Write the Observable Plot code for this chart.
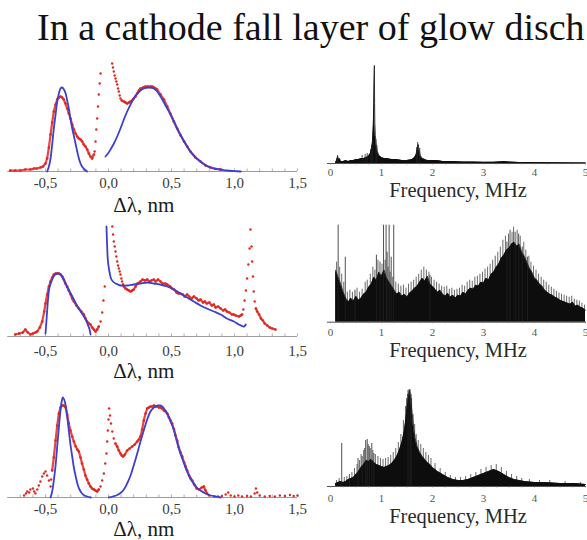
<!DOCTYPE html>
<html><head><meta charset="utf-8">
<script src="https://cdn.jsdelivr.net/npm/d3@7"></script>
<script src="https://cdn.jsdelivr.net/npm/@observablehq/plot@0.6"></script>
<style>
html,body{margin:0;padding:0;background:#fff;}
#wrap{position:relative;width:587px;height:540px;overflow:hidden;font-family:"Liberation Serif","Times New Roman",serif;}
#title{position:absolute;left:37px;top:8px;font-size:38px;line-height:1;white-space:nowrap;color:#111;}
.panel{position:absolute;overflow:visible;}
</style></head><body>
<div id="wrap"><div id="title">In a cathode fall layer of glow disch</div></div>
<script>
// ---------- text / ticks ----------
const titleText = "In a cathode fall layer of glow disch";
const leftTicks = [-0.5, 0, 0.5, 1, 1.5];
const leftTickLabels = ["-0,5", "0,0", "0,5", "1,0", "1,5"];
const rightTicks = [0, 1, 2, 3, 4, 5];
const rightTickLabels = ["0", "1", "2", "3", "4", "5"];
const leftAxisLabel = "Δλ, nm";
const rightAxisLabel = "Frequency, MHz";

// ---------- panel 1 (top) : line profile, intensity a.u. ----------
const red1Dense = [[-0.78,1],[-0.74,1],[-0.70,1],[-0.66,2],[-0.62,2],[-0.59,3],[-0.57,3],[-0.54,4],[-0.52,5],[-0.50,8],[-0.487,13],[-0.473,24],[-0.46,37],[-0.447,49],[-0.434,60],[-0.42,67],[-0.407,72],[-0.394,74],[-0.381,75],[-0.368,74],[-0.355,72],[-0.342,68],[-0.328,63],[-0.315,58],[-0.302,53],[-0.288,47],[-0.275,42],[-0.262,38],[-0.249,35],[-0.236,33],[-0.222,32],[-0.209,30],[-0.196,27],[-0.183,25],[-0.169,22],[-0.156,18],[-0.143,15],[-0.13,13],[-0.116,17]];
const red1Sparse = [[-0.11,20],[-0.103,30],[-0.097,42],[-0.09,53],[-0.083,65],[-0.077,77],[-0.07,88],[-0.063,98],[0.029,108],[0.036,104],[0.042,100],[0.049,96],[0.056,93],[0.062,90],[0.069,87],[0.076,83],[0.082,80],[0.089,76],[0.095,73]];
const red1Dense2 = [[0.105,71],[0.122,70],[0.135,69],[0.148,68],[0.162,69],[0.175,70],[0.188,71],[0.2,73],[0.214,75],[0.228,78],[0.241,81],[0.254,83],[0.274,84],[0.294,85],[0.313,85],[0.333,85],[0.347,85],[0.36,84],[0.373,83],[0.386,82],[0.413,77],[0.44,72],[0.466,65],[0.49,58],[0.518,50],[0.545,43],[0.572,36],[0.6,30],[0.625,25],[0.65,20],[0.69,14],[0.73,10],[0.77,6],[0.81,4],[0.85,2.5],[0.89,2]];
const blue1Left = [[-0.487,0],[-0.473,5],[-0.46,13],[-0.447,27],[-0.434,43],[-0.42,57],[-0.407,70],[-0.394,78],[-0.381,83],[-0.368,84],[-0.354,82],[-0.34,78],[-0.328,71],[-0.315,63],[-0.302,53],[-0.288,43],[-0.274,35],[-0.26,27],[-0.248,20],[-0.235,13],[-0.222,8],[-0.21,5],[-0.19,2],[-0.17,0]];
const blue1Right = [[-0.024,15],[-0.004,18],[0.016,22],[0.043,28],[0.069,35],[0.095,43],[0.122,52],[0.148,60],[0.175,67],[0.2,73],[0.228,78],[0.254,81],[0.28,83],[0.32,84],[0.36,83],[0.386,80],[0.413,75],[0.44,69],[0.466,63],[0.493,57],[0.52,50],[0.545,43],[0.571,37],[0.6,30],[0.624,25],[0.65,20],[0.677,16],[0.7,13],[0.73,10],[0.77,6.5],[0.81,4],[0.85,2.8],[0.89,2],[0.94,1],[1.0,0.4],[1.05,0]];

// ---------- panel 2 (middle) ----------
const red2Dense = [[-0.74,2],[-0.71,3],[-0.68,4],[-0.66,7],[-0.64,4],[-0.62,2],[-0.6,3],[-0.58,4],[-0.566,5],[-0.545,9],[-0.526,15],[-0.51,25],[-0.5,33],[-0.487,42],[-0.473,50],[-0.46,55],[-0.447,59],[-0.434,62],[-0.42,63],[-0.407,63],[-0.394,63],[-0.38,62],[-0.367,60],[-0.355,57],[-0.342,53],[-0.328,50],[-0.315,46],[-0.3,42],[-0.288,38],[-0.275,35],[-0.255,31],[-0.236,28],[-0.216,25],[-0.196,22],[-0.183,18],[-0.17,15],[-0.156,13],[-0.143,12],[-0.13,9],[-0.116,7],[-0.103,5],[-0.09,7],[-0.077,10]];
const red2Sparse = [[-0.063,15],[-0.05,24],[-0.04,36],[-0.03,50],[0.03,110],[0.036,102],[0.042,95],[0.049,90],[0.056,85],[0.062,80],[0.069,75],[0.076,71],[0.082,68],[0.089,65],[0.095,62],[0.102,58],[0.108,55]];
const red2Dense2 = [[0.115,52],[0.122,50],[0.135,48],[0.148,47],[0.162,46],[0.175,45],[0.188,46],[0.2,47],[0.215,50],[0.23,53],[0.254,55],[0.27,57],[0.29,56],[0.307,57],[0.325,55],[0.34,56],[0.36,57],[0.375,55],[0.393,57],[0.413,55],[0.43,53],[0.45,53],[0.466,52],[0.49,50],[0.505,48],[0.52,47],[0.54,44],[0.555,43],[0.57,43],[0.59,42],[0.605,40],[0.624,42],[0.64,40],[0.66,38],[0.677,40],[0.7,38],[0.715,36],[0.73,37],[0.75,34],[0.765,35],[0.78,33],[0.8,34],[0.82,31],[0.836,32],[0.85,29],[0.87,30],[0.89,28],[0.91,26],[0.925,27],[0.94,25],[0.96,24],[0.98,22],[0.995,22],[1.01,21],[1.035,20],[1.05,21],[1.06,22]];
const red2Spike = [[1.07,27],[1.08,36],[1.09,46],[1.1,58],[1.11,72],[1.12,88],[1.127,107],[1.135,90],[1.14,75],[1.147,60],[1.153,45],[1.16,35]];
const red2Tail = [[1.17,28],[1.18,25],[1.195,22],[1.21,18],[1.225,16],[1.24,13],[1.26,11],[1.28,9],[1.3,8],[1.325,7]];
const blue2Left = [[-0.5,3],[-0.49,20],[-0.48,37],[-0.47,48],[-0.45,56],[-0.43,61],[-0.407,63],[-0.38,62],[-0.355,57],[-0.33,50],[-0.3,43],[-0.275,37],[-0.25,31],[-0.22,25],[-0.2,21],[-0.18,17],[-0.165,12],[-0.15,7],[-0.143,2]];
const blue2Right = [[-0.016,110],[-0.013,98],[-0.01,88],[-0.005,76],[0.003,68],[0.012,62],[0.02,58],[0.035,55],[0.056,53],[0.075,52],[0.095,51],[0.148,51],[0.2,52],[0.254,53],[0.31,54],[0.36,53],[0.41,52],[0.466,50],[0.52,47],[0.57,43],[0.624,39],[0.677,35],[0.73,31],[0.78,28],[0.836,25],[0.89,22],[0.94,18],[0.995,15],[1.035,12],[1.075,10],[1.09,12]];

// ---------- panel 3 (bottom) ----------
const red3Scatter = [[-0.67,2],[-0.655,4],[-0.645,6],[-0.63,5],[-0.62,8],[-0.6,9],[-0.59,6],[-0.58,4],[-0.565,8],[-0.553,12],[-0.54,16],[-0.526,21],[-0.513,24],[-0.5,26],[-0.487,22],[-0.473,17],[-0.46,11],[-0.455,18]];
const red3Dense = [[-0.447,27],[-0.434,40],[-0.42,57],[-0.407,72],[-0.394,84],[-0.381,90],[-0.368,92],[-0.355,92],[-0.34,90],[-0.328,83],[-0.315,74],[-0.302,67],[-0.288,61],[-0.275,56],[-0.26,51],[-0.248,48],[-0.235,46],[-0.222,40],[-0.21,34],[-0.196,28],[-0.183,22],[-0.17,18],[-0.156,14],[-0.143,11],[-0.13,9],[-0.116,8],[-0.103,7],[-0.09,6],[-0.077,8]];
const red3Sparse = [[-0.063,11],[-0.05,17],[-0.037,24],[-0.026,34],[-0.016,44],[-0.01,56],[-0.005,67],[0,78],[0.005,89],[0.012,82],[0.02,74],[0.03,66],[0.042,59]];
const red3Dense2 = [[0.055,54],[0.069,51],[0.082,47],[0.095,44],[0.105,42],[0.116,41],[0.13,43],[0.148,47],[0.168,49],[0.188,51],[0.208,53],[0.228,56],[0.241,58],[0.254,61],[0.267,68],[0.28,77],[0.294,84],[0.307,89],[0.32,90],[0.333,91],[0.347,91],[0.36,92],[0.373,91],[0.386,91],[0.4,90],[0.413,90],[0.426,89],[0.44,87],[0.453,86],[0.466,84],[0.48,80],[0.493,77],[0.505,74],[0.52,68],[0.532,62],[0.545,57],[0.558,50],[0.572,45],[0.585,41],[0.6,35],[0.612,31],[0.624,27],[0.64,22],[0.652,19],[0.664,17],[0.68,13],[0.7,9],[0.72,8],[0.74,10],[0.757,11],[0.77,7],[0.783,4]];
const red3Tail = [[0.80,2],[0.84,1],[0.87,1],[0.9,1.5],[0.93,3],[0.95,5],[0.97,2],[1.0,1],[1.03,2],[1.06,1],[1.1,1.5],[1.13,1],[1.16,4],[1.17,9],[1.18,5],[1.2,2],[1.24,1],[1.28,1.5],[1.32,1],[1.36,2],[1.4,1.5],[1.44,2.5],[1.47,1.5],[1.5,2]];
const blue3Left = [[-0.46,0],[-0.447,6],[-0.434,17],[-0.42,32],[-0.407,51],[-0.394,70],[-0.381,87],[-0.37,97],[-0.362,100],[-0.352,98],[-0.34,92],[-0.328,81],[-0.315,67],[-0.302,53],[-0.288,41],[-0.275,30],[-0.26,21],[-0.245,13],[-0.23,8],[-0.21,4],[-0.19,2],[-0.17,1],[-0.14,0]];
const blue3Right = [[0.003,0],[0.035,1],[0.069,2.5],[0.095,4.5],[0.122,8],[0.148,14],[0.175,22],[0.2,32],[0.228,44],[0.254,56],[0.28,67],[0.307,78],[0.333,86],[0.36,90],[0.386,92],[0.41,92],[0.426,91],[0.446,88],[0.466,84],[0.493,76],[0.52,67],[0.545,55],[0.571,44],[0.6,34],[0.624,26],[0.65,19],[0.677,14],[0.7,10],[0.73,7],[0.77,4],[0.81,2],[0.85,1],[0.89,0]];

// ---------- spectra (frequency MHz, amplitude a.u.) ----------
const spec1 = [[0.10,1],[0.12,3],[0.14,7],[0.16,4],[0.18,5],[0.20,2],[0.25,2],[0.30,3],[0.35,2],[0.40,3],[0.45,3],[0.50,4],[0.55,4],[0.60,5],[0.65,5],[0.70,6],[0.74,7],[0.78,10],[0.80,14],[0.82,20],[0.83,28],[0.84,38],[0.85,60],[0.86,98],[0.865,60],[0.87,40],[0.88,28],[0.89,22],[0.90,17],[0.92,12],[0.95,8],[1.00,6],[1.05,5],[1.10,5],[1.20,4],[1.30,4],[1.40,3],[1.50,3],[1.60,4],[1.65,6],[1.68,9],[1.70,14],[1.72,19],[1.74,13],[1.76,8],[1.80,5],[1.85,4],[1.90,3],[2.00,3],[2.10,3],[2.20,2],[2.40,2],[2.60,1.5],[2.80,1.5],[3.00,1.2],[3.20,1.3],[3.40,2],[3.50,1.5],[3.70,1],[4.00,1],[4.50,0.8],[5.00,0.6]];
const spikes1 = [[0.14,8],[0.62,8],[0.68,9],[0.72,10],[0.79,14],[0.81,18],[0.83,26],[0.89,24],[0.91,18],[1.69,16],[1.71,21],[1.75,15]];
const spec2 = [[0.10,52],[0.15,45],[0.20,38],[0.25,30],[0.30,24],[0.35,20],[0.40,24],[0.45,21],[0.50,26],[0.55,22],[0.60,24],[0.65,28],[0.70,30],[0.75,35],[0.80,38],[0.85,45],[0.90,42],[0.95,50],[1.00,46],[1.05,52],[1.10,44],[1.15,40],[1.20,36],[1.25,32],[1.30,28],[1.35,30],[1.40,26],[1.45,28],[1.50,25],[1.55,29],[1.60,31],[1.65,34],[1.70,36],[1.75,40],[1.80,44],[1.85,41],[1.90,46],[1.95,38],[2.00,36],[2.05,33],[2.10,30],[2.15,32],[2.20,28],[2.25,26],[2.30,29],[2.35,25],[2.40,27],[2.45,24],[2.50,27],[2.55,26],[2.60,30],[2.65,28],[2.70,32],[2.75,34],[2.80,33],[2.85,37],[2.90,36],[2.95,40],[3.00,39],[3.05,44],[3.10,42],[3.15,48],[3.20,50],[3.25,55],[3.30,58],[3.35,64],[3.40,67],[3.45,72],[3.50,74],[3.55,78],[3.60,80],[3.65,76],[3.70,78],[3.75,70],[3.80,66],[3.85,60],[3.90,54],[3.95,50],[4.00,44],[4.05,42],[4.10,38],[4.15,36],[4.20,32],[4.25,30],[4.30,28],[4.35,27],[4.40,25],[4.45,24],[4.50,22],[4.55,21],[4.60,20],[4.65,19],[4.70,18],[4.75,20],[4.80,16],[4.85,17],[4.90,15],[4.95,14],[5.00,12]];
const spikes2 = [[0.15,97],[0.29,65],[0.48,32],[0.90,67],[0.97,60],[1.04,97],[1.09,97],[1.11,70],[1.15,97],[1.19,65],[1.24,97],[1.95,47],[3.46,80],[3.52,92],[3.62,90],[3.69,88],[3.76,75],[3.86,65]];
const hairs2 = [[0.12,60],[0.18,55],[0.22,48],[0.26,40],[0.33,30],[0.38,32],[0.43,30],[0.52,34],[0.57,30],[0.62,33],[0.68,40],[0.72,42],[0.78,48],[0.83,55],[0.87,52],[0.93,62],[1.01,58],[1.07,62],[1.13,55],[1.17,50],[1.22,45],[1.28,40],[1.33,38],[1.38,36],[1.43,37],[1.48,34],[1.53,38],[1.58,40],[1.63,42],[1.68,45],[1.73,48],[1.78,52],[1.83,55],[1.88,52],[1.93,50],[1.98,45],[2.03,42],[2.08,40],[2.13,38],[2.18,36],[2.23,35],[2.28,36],[2.33,33],[2.38,34],[2.43,32],[2.48,33],[2.53,34],[2.58,37],[2.63,36],[2.68,40],[2.73,42],[2.78,41],[2.83,45],[2.88,46],[2.93,48],[2.98,50],[3.03,53],[3.08,55],[3.13,58],[3.18,62],[3.23,66],[3.28,70],[3.33,75],[3.38,82],[3.43,86],[3.49,88],[3.56,90],[3.59,95],[3.66,92],[3.72,86],[3.79,80],[3.83,72],[3.89,66],[3.93,60],[3.98,56],[4.03,52],[4.08,48],[4.13,45],[4.18,42],[4.23,40],[4.28,37],[4.33,35],[4.38,33],[4.43,31],[4.48,29],[4.53,28],[4.58,27],[4.63,26],[4.68,25],[4.73,26],[4.78,23],[4.83,22],[4.88,21],[4.93,19],[4.98,17]];
const spec3 = [[0.10,3],[0.15,4],[0.20,5],[0.25,4],[0.30,5],[0.35,7],[0.40,8],[0.45,9],[0.50,12],[0.55,15],[0.60,19],[0.65,22],[0.70,26],[0.75,25],[0.80,27],[0.85,24],[0.90,22],[0.95,21],[1.00,20],[1.05,19],[1.10,20],[1.15,21],[1.20,23],[1.25,26],[1.30,30],[1.35,36],[1.40,44],[1.45,56],[1.48,68],[1.50,78],[1.53,88],[1.55,96],[1.57,90],[1.60,74],[1.63,58],[1.66,48],[1.70,40],[1.75,34],[1.80,30],[1.85,27],[1.90,24],[1.95,22],[2.00,19],[2.10,15],[2.20,12],[2.30,9],[2.40,7],[2.50,6],[2.60,6],[2.70,7],[2.80,9],[2.90,11],[3.00,13],[3.10,15],[3.20,17],[3.30,15],[3.40,12],[3.50,9],[3.60,7],[3.70,6],[3.80,5],[4.00,4],[4.20,4],[4.50,3],[4.80,3],[5.00,2]];
const spikes3 = [[0.22,43],[0.37,12],[0.54,28],[0.62,30],[0.69,46],[0.72,47],[0.76,40],[0.81,43],[0.85,33],[1.52,96],[1.56,97],[1.58,92]];
const hairs3 = [[0.12,6],[0.17,8],[0.27,9],[0.32,10],[0.42,14],[0.47,18],[0.52,22],[0.57,26],[0.6,32],[0.65,36],[0.67,38],[0.74,42],[0.78,38],[0.83,36],[0.88,32],[0.93,30],[0.98,28],[1.03,27],[1.08,28],[1.13,29],[1.18,31],[1.23,34],[1.28,38],[1.33,44],[1.38,52],[1.43,66],[1.47,80],[1.49,88],[1.51,92],[1.54,97],[1.59,88],[1.62,72],[1.65,62],[1.68,52],[1.72,46],[1.77,42],[1.82,38],[1.87,34],[1.92,31],[1.97,28],[2.05,23],[2.15,18],[2.25,14],[2.35,11],[2.45,9],[2.55,9],[2.65,10],[2.75,12],[2.85,14],[2.95,17],[3.05,19],[3.15,21],[3.25,22],[3.35,19],[3.45,15],[3.55,12],[3.65,10],[3.75,8],[3.9,7],[4.1,6],[4.3,6],[4.6,5],[4.9,4]];

// ---------- drawing ----------
const RED = "#e2271f", BLUE = "#3c3fcf";
const X = d => d[0], Y = d => d[1];
const wrap = document.getElementById("wrap");
const minorLeft = d3.range(-0.7, 1.55, 0.1);
const minorRight = d3.range(0, 5.01, 0.25);

function place(svg, left, top) {
  svg.classList.add("panel");
  svg.style.left = left + "px";
  svg.style.top = top + "px";
  wrap.appendChild(svg);
}

function leftPanel(p) {
  const marks = [
    Plot.ruleY([0], {x1: -0.8, x2: 1.5, stroke: "#9c9c9c", strokeWidth: 1}),
    Plot.ruleX(minorLeft, {x: d => d, y1: 0, y2: 2.5, stroke: "#9c9c9c", strokeWidth: 0.8}),
  ];
  for (const s of p.dense) {
    marks.push(Plot.line(s, {x: X, y: Y, stroke: RED, strokeWidth: 2.2, strokeOpacity: 0.85}));
    marks.push(Plot.dot(s, {x: X, y: Y, r: 1.3, fill: RED, stroke: "none"}));
  }
  for (const s of p.sparse) marks.push(Plot.dot(s, {x: X, y: Y, r: 1.2, fill: RED, stroke: "none"}));
  for (const s of p.blue) marks.push(Plot.line(s, {x: X, y: Y, stroke: BLUE, strokeWidth: 1.8, curve: "catmull-rom"}));
  marks.push(Plot.text(leftTicks, {x: d => d, y: 0, text: (d, i) => leftTickLabels[i], dy: p.tickDy, lineAnchor: "bottom", textAnchor: "middle", fontSize: 15, fill: "#3a3a3a", fontFamily: "Liberation Serif"}));
  marks.push(Plot.text([leftAxisLabel], {x: 0.28, y: 0, text: d => d, dy: p.labelDy, lineAnchor: "bottom", textAnchor: "middle", fontSize: 21, fill: "#1a1a1a", fontFamily: "Liberation Serif"}));
  const svg = Plot.plot({
    width: 320, height: p.height, margin: 0,
    x: {domain: [-0.8, 1.5], range: [7.2, 297], axis: null},
    y: {domain: [0, 110], range: [p.base, p.base - 110], axis: null},
    style: {background: "transparent", overflow: "visible"},
    marks
  });
  place(svg, 0, p.top);
}

function rightPanel(p) {
  const marks = [
    Plot.ruleX(p.hairs, {x: X, y1: 0, y2: Y, stroke: "#111", strokeWidth: 0.7, strokeOpacity: 0.9}),
    Plot.areaY(p.spec, {x: X, y: Y, fill: "#0d0d0d", curve: "linear"}),
    Plot.line(p.spec, {x: X, y: Y, stroke: "#111", strokeWidth: 0.8}),
    Plot.ruleX(p.spikes, {x: X, y1: 0, y2: Y, stroke: "#222", strokeWidth: 0.8}),
    Plot.ruleY([0], {x1: -0.06, x2: 5.02, stroke: "#555", strokeWidth: 1}),
    Plot.ruleX(minorRight, {x: d => d, y1: 0, y2: -1.5, stroke: "#777", strokeWidth: 0.7}),
    Plot.text(rightTicks, {x: d => d, y: 0, text: (d, i) => rightTickLabels[i], dy: p.tickDy, lineAnchor: "bottom", textAnchor: "middle", fontSize: 11, fill: "#555", fontFamily: "Liberation Serif"}),
    Plot.text([rightAxisLabel], {x: 2.5, y: 0, text: d => d, dy: p.labelDy, lineAnchor: "bottom", textAnchor: "middle", fontSize: 20.5, fill: "#2a2a2a", fontFamily: "Liberation Serif"})
  ];
  const svg = Plot.plot({
    width: 277, height: p.height, margin: 0,
    x: {domain: [0, 5], range: [20, 275], axis: null},
    y: {domain: [0, 100], range: [p.base, p.base - 100], axis: null},
    style: {background: "transparent", overflow: "visible"},
    marks
  });
  place(svg, 310, p.top);
}

leftPanel({top: 50, height: 170, base: 121, tickDy: 16, labelDy: 40,
  dense: [red1Dense, red1Dense2], sparse: [red1Sparse], blue: [blue1Left, blue1Right]});
leftPanel({top: 215, height: 170, base: 121, tickDy: 19, labelDy: 41,
  dense: [red2Dense, red2Dense2, red2Tail], sparse: [red2Sparse, red2Spike], blue: [blue2Left, blue2Right]});
leftPanel({top: 380, height: 160, base: 117, tickDy: 16, labelDy: 38,
  dense: [red3Dense, red3Dense2], sparse: [red3Scatter, red3Sparse, red3Tail], blue: [blue3Left, blue3Right]});

rightPanel({top: 50, height: 165, base: 113, tickDy: 12.5, labelDy: 33.5, spec: spec1, spikes: spikes1, hairs: []});
rightPanel({top: 215, height: 165, base: 106.7, tickDy: 14, labelDy: 35, spec: spec2, spikes: spikes2, hairs: hairs2});
rightPanel({top: 380, height: 160, base: 106, tickDy: 15, labelDy: 36, spec: spec3, spikes: spikes3, hairs: hairs3});
</script>
</body></html>
